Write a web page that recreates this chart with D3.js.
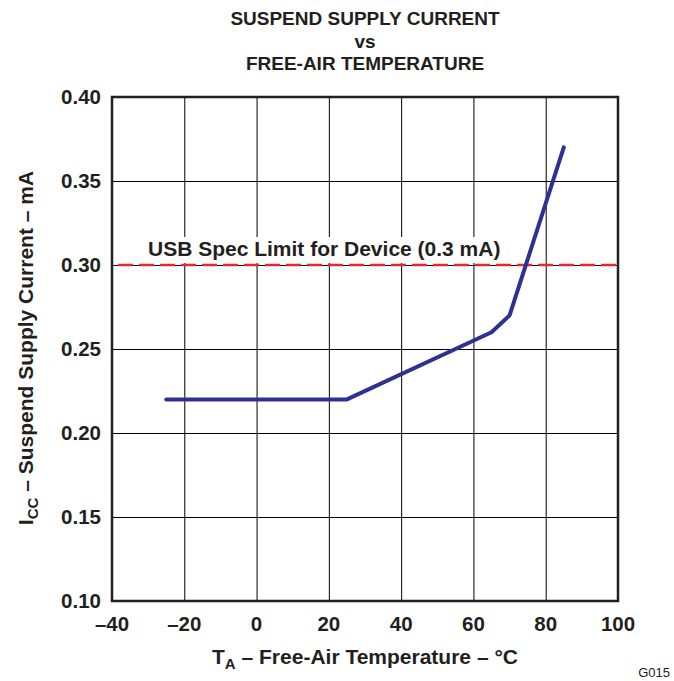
<!DOCTYPE html>
<html>
<head>
<meta charset="utf-8">
<script src="https://cdn.jsdelivr.net/npm/d3@7"></script>
<style>
  body { margin: 0; background: #fff; }
  text { font-family: "Liberation Sans", Arial, sans-serif; fill: #231f20; }
</style>
</head>
<body>
<div id="chart"></div>
<script>
// data
var temps = [-25, 25, 65, 70, 85];
var currents = [0.22, 0.22, 0.26, 0.27, 0.37];
var xTicks = [-40, -20, 0, 20, 40, 60, 80, 100];
var yTicks = [0.10, 0.15, 0.20, 0.25, 0.30, 0.35, 0.40];
var specLimit = 0.30;
var titleLines = ['SUSPEND SUPPLY CURRENT', 'vs', 'FREE-AIR TEMPERATURE'];

var sizes = {width: 674, height: 681};
var m = {left: 112, right: 618, top: 97, bottom: 601};

var svg = d3.select('#chart')
            .append('svg')
            .attr('width', sizes.width)
            .attr('height', sizes.height);

var x = d3.scaleLinear().domain([-40, 100]).range([m.left, m.right]);
var y = d3.scaleLinear().domain([0.10, 0.40]).range([m.bottom, m.top]);

// grid
var grid = svg.append('g');
grid.append('g')
    .attr('transform', 'translate(0,' + m.bottom + ')')
    .call(d3.axisBottom(x).tickValues(xTicks).tickSize(-(m.bottom - m.top)).tickFormat(''))
    .call(function(g){ g.select('.domain').remove(); g.selectAll('text').remove(); })
    .selectAll('line').attr('stroke', '#000').attr('stroke-width', 1);

grid.append('g')
    .attr('transform', 'translate(' + m.left + ',0)')
    .call(d3.axisLeft(y).tickValues(yTicks).tickSize(-(m.right - m.left)).tickFormat(''))
    .call(function(g){ g.select('.domain').remove(); g.selectAll('text').remove(); })
    .selectAll('line').attr('stroke', '#000').attr('stroke-width', 1);

// tick labels
svg.selectAll('.xlab')
    .data(xTicks)
    .enter()
    .append('text')
    .attr('x', function(d){ return x(d); })
    .attr('y', 631)
    .attr('text-anchor', 'middle')
    .style('font-size', '20.5px')
    .style('font-weight', 'bold')
    .text(function(d){ return d < 0 ? '\u2013' + Math.abs(d) : d; });

svg.selectAll('.ylab')
    .data(yTicks)
    .enter()
    .append('text')
    .attr('x', 101)
    .attr('y', function(d){ return y(d) + 7; })
    .attr('text-anchor', 'end')
    .style('font-size', '20.5px')
    .style('font-weight', 'bold')
    .text(function(d){ return d3.format('.2f')(d); });

// spec limit label with white box behind
var labBox = svg.append('rect').attr('fill', '#fff');
var lab = svg.append('text')
    .attr('x', 148)
    .attr('y', 256)
    .style('font-size', '21px')
    .style('font-weight', 'bold')
    .text('USB Spec Limit for Device (0.3 mA)');
var bb = lab.node().getBBox();
labBox.attr('x', bb.x - 4).attr('y', bb.y)
    .attr('width', bb.width + 8).attr('height', y(specLimit) - bb.y - 2);

// spec limit line
svg.append('line')
    .attr('x1', m.left + 6).attr('x2', m.right)
    .attr('y1', y(specLimit)).attr('y2', y(specLimit))
    .attr('stroke', '#e8262e')
    .attr('stroke-width', 2.5)
    .attr('stroke-dasharray', '15,6');

// data line
var pts = temps.map(function(t, i){ return [t, currents[i]]; });
svg.append('path')
    .datum(pts)
    .attr('d', d3.line().x(function(d){ return x(d[0]); }).y(function(d){ return y(d[1]); }))
    .attr('fill', 'none')
    .attr('stroke', '#2e3192')
    .attr('stroke-width', 4)
    .attr('stroke-linecap', 'round')
    .attr('stroke-linejoin', 'round');

// frame
svg.append('rect')
    .attr('x', m.left).attr('y', m.top)
    .attr('width', m.right - m.left).attr('height', m.bottom - m.top)
    .attr('fill', 'none')
    .attr('stroke', '#231f20')
    .attr('stroke-width', 2.5);

// title
svg.selectAll('.title')
    .data(titleLines)
    .enter()
    .append('text')
    .attr('x', 365)
    .attr('y', function(d, i){ return 25 + i * 22.5; })
    .attr('text-anchor', 'middle')
    .style('font-size', '19px')
    .style('font-weight', 'bold')
    .text(function(d){ return d; });

// x title
var xt = svg.append('text')
    .attr('x', 365).attr('y', 664)
    .attr('text-anchor', 'middle')
    .style('font-size', '21px')
    .style('font-weight', 'bold');
xt.append('tspan').text('T');
xt.append('tspan').attr('dy', 5).style('font-size', '15px').text('A');
xt.append('tspan').attr('dy', -5).text(' \u2013 Free-Air Temperature \u2013 \u00b0C');

// y title
var yt = svg.append('text')
    .attr('transform', 'translate(33,348) rotate(-90)')
    .attr('text-anchor', 'middle')
    .style('font-size', '21px')
    .style('font-weight', 'bold');
yt.append('tspan').text('I');
yt.append('tspan').attr('dy', 5).style('font-size', '15px').text('CC');
yt.append('tspan').attr('dy', -5).text(' \u2013 Suspend Supply Current \u2013 mA');

// figure code
svg.append('text')
    .attr('x', 670).attr('y', 677)
    .attr('text-anchor', 'end')
    .style('font-size', '13px')
    .text('G015');
</script>
</body>
</html>
